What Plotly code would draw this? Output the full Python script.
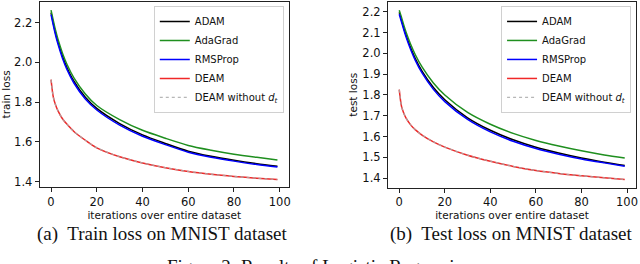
import plotly.graph_objects as go

# ---- data ----
iters = [0, 1, 2, 3, 5, 7, 10, 15, 20, 30, 40, 50, 60, 70, 80, 90, 99]

train_adam    = [2.250, 2.196, 2.146, 2.103, 2.031, 1.973, 1.905, 1.824, 1.768, 1.692, 1.635, 1.592, 1.553, 1.527, 1.507, 1.490, 1.477]
train_adagrad = [2.263, 2.210, 2.160, 2.117, 2.046, 1.989, 1.922, 1.841, 1.783, 1.712, 1.658, 1.618, 1.582, 1.558, 1.538, 1.522, 1.509]
train_rmsprop = [2.240, 2.186, 2.136, 2.093, 2.021, 1.963, 1.896, 1.815, 1.760, 1.684, 1.628, 1.586, 1.548, 1.523, 1.503, 1.486, 1.473]
train_deam    = [1.913, 1.825, 1.785, 1.757, 1.716, 1.688, 1.652, 1.608, 1.570, 1.525, 1.494, 1.470, 1.451, 1.437, 1.426, 1.417, 1.410]
train_deam_nd = [1.913, 1.825, 1.785, 1.757, 1.716, 1.688, 1.652, 1.608, 1.570, 1.525, 1.494, 1.470, 1.451, 1.437, 1.426, 1.417, 1.410]

test_adam    = [2.198, 2.161, 2.123, 2.088, 2.028, 1.977, 1.915, 1.836, 1.777, 1.690, 1.630, 1.584, 1.548, 1.520, 1.496, 1.476, 1.460]
test_adagrad = [2.208, 2.173, 2.136, 2.102, 2.044, 1.995, 1.935, 1.858, 1.800, 1.716, 1.659, 1.615, 1.581, 1.554, 1.531, 1.511, 1.496]
test_rmsprop = [2.189, 2.152, 2.114, 2.079, 2.019, 1.968, 1.906, 1.827, 1.768, 1.682, 1.622, 1.577, 1.542, 1.515, 1.492, 1.473, 1.457]
test_deam    = [1.826, 1.745, 1.712, 1.688, 1.656, 1.633, 1.607, 1.574, 1.549, 1.510, 1.481, 1.456, 1.436, 1.422, 1.411, 1.401, 1.393]
test_deam_nd = [1.826, 1.745, 1.712, 1.688, 1.656, 1.633, 1.607, 1.574, 1.549, 1.510, 1.481, 1.456, 1.436, 1.422, 1.411, 1.401, 1.393]

names = ["ADAM", "AdaGrad", "RMSProp", "DEAM", "DEAM without <i>d<sub>t</sub></i>"]
colors = ["#000000", "#1f8f1f", "#0000ff", "#f02828", "rgba(170,170,170,0.85)"]
dashes = ["solid", "solid", "solid", "solid", "dot"]
widths = [1.5, 1.5, 1.5, 1.5, 1.3]

x_ticks = [0, 20, 40, 60, 80, 100]
train_yticks = [1.4, 1.6, 1.8, 2.0, 2.2]
test_yticks = [1.4, 1.5, 1.6, 1.7, 1.8, 1.9, 2.0, 2.1, 2.2]

captions = ["(a)  Train loss on MNIST dataset", "(b)  Test loss on MNIST dataset"]
fig_caption = "Figure 2: Results of Logistic Regression"

# ---- figure ----
fig = go.Figure()
W, H = 640, 264

panels = [
    (train_adam, train_adagrad, train_rmsprop, train_deam, train_deam_nd, "x", "y", "legend"),
    (test_adam, test_adagrad, test_rmsprop, test_deam, test_deam_nd, "x2", "y2", "legend2"),
]
for series_set in panels:
    *series, xa, ya, leg = series_set
    for i, ys in enumerate(series):
        fig.add_trace(go.Scatter(
            x=iters, y=ys, mode="lines", name=names[i],
            line=dict(color=colors[i], width=widths[i], dash=dashes[i], shape="spline", smoothing=0.8),
            xaxis=xa, yaxis=ya, legend=leg, showlegend=True,
        ))

tickfont = dict(family="DejaVu Sans", size=11.5, color="#111")
titlefont = dict(family="DejaVu Sans", size=10.5, color="#111")
axis_common = dict(showline=True, linecolor="#222", linewidth=1, mirror=True,
                   ticks="outside", ticklen=4, tickcolor="#222", tickwidth=1,
                   showgrid=False, zeroline=False, tickfont=tickfont)

fig.update_layout(
    width=W, height=H,
    margin=dict(l=0, r=0, t=0, b=0),
    paper_bgcolor="white", plot_bgcolor="white",
    xaxis=dict(domain=[37 / W, 288 / W], range=[-4.95, 103.95], tickvals=x_ticks,
               title=dict(text="iterations over entire dataset", font=titlefont, standoff=1),
               anchor="y", **axis_common),
    yaxis=dict(domain=[1 - 188.3 / H, 1 - 2 / H], range=[1.3735, 2.3035], tickvals=train_yticks,
               tickformat=".1f",
               title=dict(text="train loss", font=titlefont, standoff=7),
               anchor="x", **axis_common),
    xaxis2=dict(domain=[388 / W, 638 / W], range=[-4.95, 103.95], tickvals=x_ticks,
                title=dict(text="iterations over entire dataset", font=titlefont, standoff=1),
                anchor="y2", **axis_common),
    yaxis2=dict(domain=[1 - 189 / H, 1 - 2 / H], range=[1.354, 2.248], tickvals=test_yticks,
                tickformat=".1f",
                title=dict(text="test loss", font=titlefont, standoff=2),
                anchor="x2", **axis_common),
    legend=dict(x=283 / W, xanchor="right", y=1 - 6 / H, yanchor="top",
                bgcolor="rgba(255,255,255,0.9)", bordercolor="#d0d0d0", borderwidth=1,
                font=dict(family="DejaVu Sans", size=10, color="#111"), tracegroupgap=0),
    legend2=dict(x=633 / W, xanchor="right", y=1 - 6 / H, yanchor="top",
                 bgcolor="rgba(255,255,255,0.9)", bordercolor="#d0d0d0", borderwidth=1,
                 font=dict(family="DejaVu Sans", size=10, color="#111"), tracegroupgap=0),
)

capfont = dict(family="Liberation Serif", size=19, color="#111")
fig.add_annotation(text=captions[0], x=161 / W, y=1 - 236 / H, xref="paper", yref="paper",
                   showarrow=False, font=capfont, xanchor="center", yanchor="middle")
fig.add_annotation(text=captions[1], x=513 / W, y=1 - 236 / H, xref="paper", yref="paper",
                   showarrow=False, font=capfont, xanchor="center", yanchor="middle")
fig.add_annotation(text=fig_caption, x=0.5, y=1 - 256 / H, xref="paper", yref="paper",
                   showarrow=False, font=capfont, xanchor="center", yanchor="top")

fig.write_html("out.html", config={"displayModeBar": False},
               post_script="document.body.style.margin='0';document.body.style.overflow='hidden';")
